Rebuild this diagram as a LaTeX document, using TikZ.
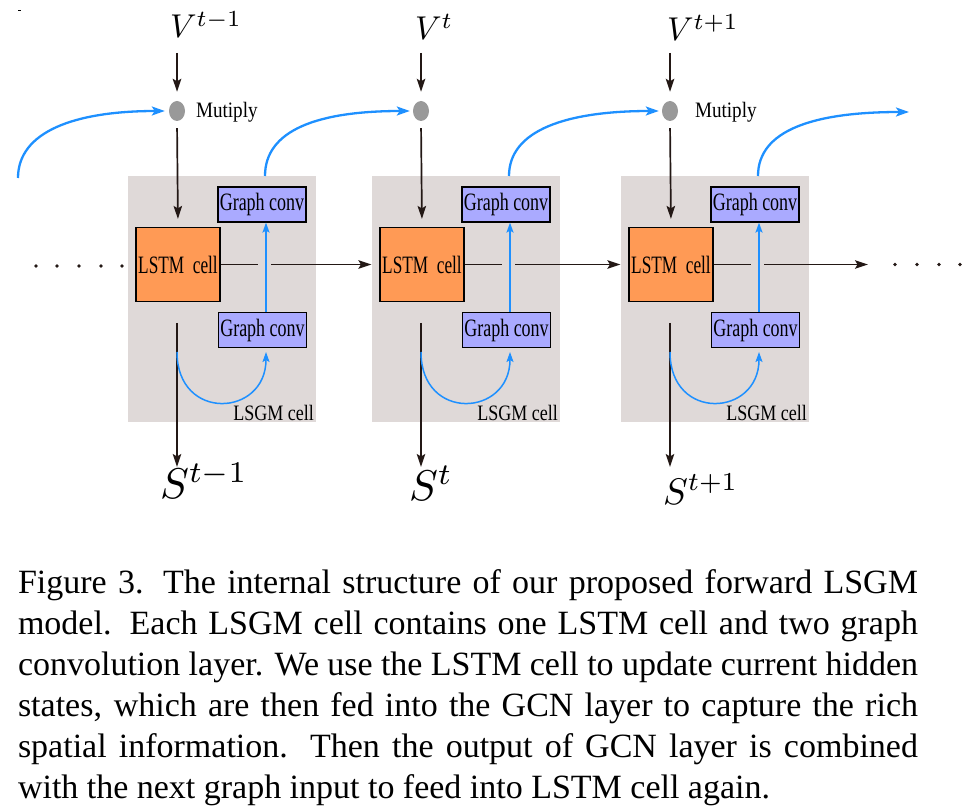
\documentclass[tikz,border=0pt]{standalone}
\usepackage{fontspec}
\setmainfont{Liberation Serif}
\usetikzlibrary{arrows.meta,shapes.geometric,calc}
\definecolor{cellbg}{RGB}{223,217,216}
\definecolor{lstmfill}{RGB}{255,154,85}
\definecolor{gconvfill}{RGB}{170,170,255}
\definecolor{flow}{RGB}{30,144,255}
\definecolor{dotgray}{RGB}{153,153,153}
\definecolor{ink}{RGB}{35,24,21}
\newcommand\gctext{{\fontsize{25}{26}\selectfont\scalebox{0.72}[1]{Graph conv}}}
\newcommand\lstmtext{{\fontsize{25}{26}\selectfont\scalebox{0.69}[1]{LSTM\ \ cell}}}
\newcommand\lsgmtext{{\fontsize{22}{23}\selectfont\scalebox{0.82}[1]{LSGM cell}}}
\newcommand\multext{{\fontsize{22}{23}\selectfont\scalebox{0.87}[1]{Mutiply}}}
\begin{document}
\begin{tikzpicture}[x=1pt,y=-1pt,
  cellback/.style={fill=cellbg,draw=none,inner sep=0,minimum width=188pt,minimum height=246pt},
  gconvbox/.style={draw=black,line width=1.2pt,fill=gconvfill,inner sep=0,minimum width=88pt,minimum height=35pt},
  lstmbox/.style={draw=black,line width=1.2pt,fill=lstmfill,inner sep=0,minimum width=84pt,minimum height=74pt},
  muldot/.style={ellipse,fill=dotgray,draw=none,inner sep=0,minimum width=16pt,minimum height=20pt},
  blk/.style={draw=ink,line width=1.7pt,-{Stealth[length=13pt,width=8.5pt,inset=2.5pt]}},
  blkline/.style={draw=ink,line width=1.7pt},
  flowbig/.style={draw=flow,line width=2.3pt,-{Stealth[length=13pt,width=9pt,inset=3pt]}},
  flowsmall/.style={draw=flow,line width=1.5pt,-{Stealth[length=10pt,width=7pt,inset=2pt]}},
  txt/.style={inner sep=0,outer sep=0},
]
\useasboundingbox (0,0) rectangle (975,810);
\draw[line width=0.8pt] (18,10) -- (21,10);

% cells
\foreach \i/\dx in {1/0,2/244,3/493}{
  \node[cellback] (bg\i) at (222+\dx,299) {};
  \node[gconvbox] (gt\i) at (262+\dx,204.5) {\gctext};
  \node[lstmbox] (l\i) at (178+\dx,264.5) {\lstmtext};
  \node[gconvbox] (gb\i) at (262.5+\dx,330) {\gctext};
  \node[muldot] (m\i) at (177+\dx,111) {};
  \node[txt,anchor=base east] (lc\i) at (314+\dx,420) {\lsgmtext};
  \coordinate (vt\i) at (177+\dx,53);
  \coordinate (h\i) at (271+\dx,264.5);
  \coordinate (sd\i) at (177+\dx,467);
  \coordinate (cs\i) at (177+\dx,352);
  \coordinate (up\i) at (265+\dx,176);
  \coordinate (ls\i) at (177+\dx,302);
  \coordinate (gbs\i) at (266+\dx,347);
  \draw[blk,shorten >=9pt] (vt\i) -- (m\i.north);
  \draw[blk,shorten <=7pt,shorten >=8pt] (m\i.south) -- (l\i.north);
  \draw[blkline] (l\i.east) -- ++(37,0);
  \draw[flowsmall] ([xshift=3.5pt]gb\i.north) -- ([xshift=4pt]gt\i.south);
  \draw[blk,shorten <=21pt] (ls\i) -- (sd\i);
  \draw[flowsmall,shorten >=5pt] (cs\i) .. controls +(0,70) and +(0,70) .. (gbs\i);
}
\coordinate (rend) at (868,264.5);
\draw[blk,shorten >=8pt] (h1) -- (l2.west);
\draw[blk,shorten >=8pt] (h2) -- (l3.west);
\draw[blk] (h3) -- (rend);

% feedback curves
\coordinate (lstart) at (18,178);
\coordinate (rtip) at (909,112);
\draw[flowbig,shorten >=4pt] (lstart) .. controls +(0,-46) and +(-95,0) .. (m1.west);
\draw[flowbig,shorten >=3pt] (up1) .. controls +(0,-46) and +(-95,0) .. (m2.west);
\draw[flowbig,shorten >=3pt] (up2) .. controls +(0,-46) and +(-95,0) .. (m3.west);
\draw[flowbig] (up3) .. controls +(0,-46) and +(-95,0) .. (rtip);

% dots
\foreach \x in {36,57,79,101,122} \fill[ink] (\x,266) circle (1.9);
\foreach \x in {895,917,939,960} \fill[ink] (\x,264.5) circle (1.9);

% labels
\node[txt,anchor=base west] (mt1) at (196,118) {\multext};
\node[txt,anchor=base west] (mt3) at (695,118) {\multext};
\node[txt,anchor=base west] (v1) at (170,38) {\scalebox{3.3}{$V^{t-1}$}};
\node[txt,anchor=base west] (v2) at (415,40) {\scalebox{3.3}{$V^{t}$}};
\node[txt,anchor=base west] (v3) at (667,41) {\scalebox{3.3}{$V^{t+1}$}};
\node[txt,anchor=base west] (s1) at (160,498) {\scalebox{4.3}{$S^{t-1}$}};
\node[txt,anchor=base west] (s2) at (409,500) {\scalebox{4.3}{$S^{t}$}};
\node[txt,anchor=base west] (s3) at (663,504) {\scalebox{3.7}{$S^{t+1}$}};

% caption
\begin{scope}[every node/.style={txt,anchor=base west,font=\fontsize{34}{41}\selectfont}]
\node (c1) at (18,593) {\makebox[900pt][s]{Figure 3. The internal structure of our proposed forward LSGM}};
\node (c2) at (18,634) {\makebox[900pt][s]{model.  Each LSGM cell contains one LSTM cell and two graph}};
\node (c3) at (18,675) {\makebox[900pt][s]{convolution layer. We use the LSTM cell to update current hidden}};
\node (c4) at (18,716) {\makebox[900pt][s]{states, which are then fed into the GCN layer to capture the rich}};
\node (c5) at (18,757) {\makebox[900pt][s]{spatial information.  Then the output of GCN layer is combined}};
\node (c6) at (18,798) {\makebox[752pt][s]{with the next graph input to feed into LSTM cell again.}};
\end{scope}
\end{tikzpicture}
\end{document}
